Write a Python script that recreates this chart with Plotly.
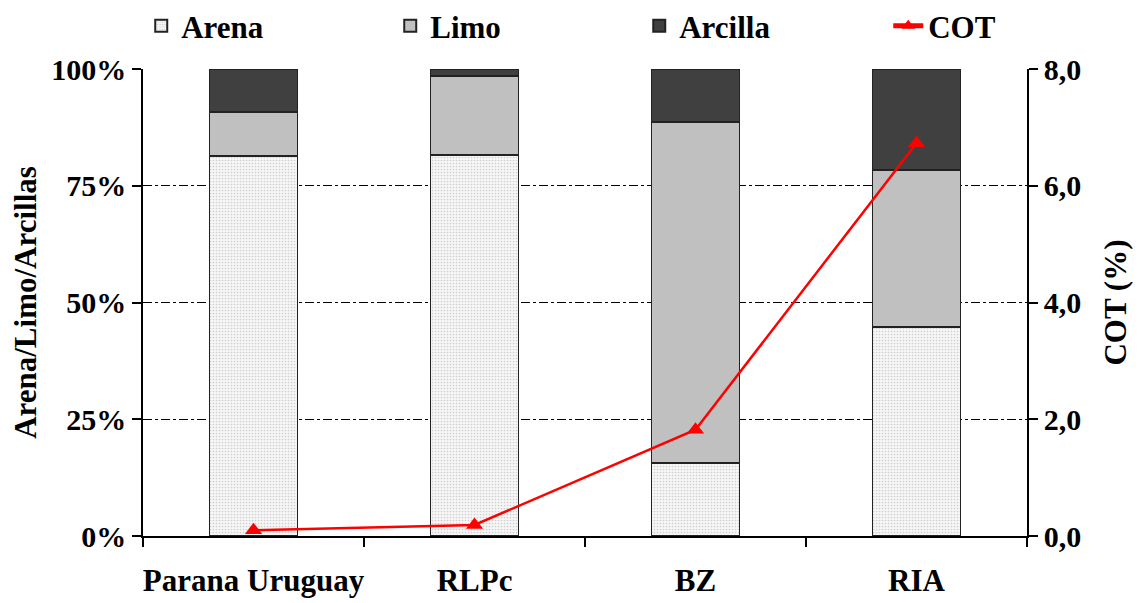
import plotly.graph_objects as go

categories = ["Parana Uruguay", "RLPc", "BZ", "RIA"]
arena = [81.4, 81.6, 15.6, 44.8]
limo = [9.4, 16.9, 73.1, 33.6]
arcilla = [9.2, 1.5, 11.3, 21.6]
cot = [0.10, 0.19, 1.82, 6.73]

left_ticks = [0, 25, 50, 75, 100]
left_ticktext = ["0%", "25%", "50%", "75%", "100%"]
right_ticks = [0, 2, 4, 6, 8]

FONT = "Liberation Serif"

fig = go.Figure()
fig.add_trace(go.Bar(
    x=categories, y=arena, name="Arena", width=0.4,
    marker=dict(color="white", line=dict(color="#222222", width=1.5),
                pattern=dict(shape=".", fgcolor="#a8a8a8", bgcolor="#f6f6f6", size=3, solidity=0.25)),
))
fig.add_trace(go.Bar(
    x=categories, y=limo, name="Limo", width=0.4,
    marker=dict(color="#c0c0c0", line=dict(color="#222222", width=1.5)),
))
fig.add_trace(go.Bar(
    x=categories, y=arcilla, name="Arcilla", width=0.4,
    marker=dict(color="#404040", line=dict(color="#222222", width=1.5)),
))
fig.add_trace(go.Scatter(
    x=categories, y=cot, name="COT", yaxis="y2", mode="lines+markers",
    line=dict(color="#ff0000", width=2.5),
    marker=dict(symbol="triangle-up", size=15, color="#ff0000"),
))

# page body has an 8px default margin, so the figure is sized/offset to compensate
fig.update_layout(
    width=1134, height=595,
    barmode="stack",
    separators=",.",
    plot_bgcolor="white", paper_bgcolor="white",
    margin=dict(l=135, r=115, t=61, b=67, autoexpand=False),
    font=dict(family=FONT, size=28, color="black"),
    showlegend=True,
    legend=dict(orientation="h", x=-0.002, xref="paper", y=1.092, yref="paper",
                yanchor="middle", xanchor="left", entrywidth=204, entrywidthmode="pixels",
                font=dict(family=FONT, size=31, color="black", weight="bold"),
                traceorder="normal", itemsizing="constant", bgcolor="rgba(0,0,0,0)"),
    xaxis=dict(
        type="category", showline=True, linecolor="black", linewidth=1.5,
        ticks="outside", tickson="boundaries", ticklen=9, tickcolor="black", tickwidth=1.5,
        ticklabelstandoff=16, showgrid=False, tickangle=0,
        tickfont=dict(family=FONT, size=31, color="black", weight="bold"),
        range=[-0.5, 3.5],
    ),
    yaxis=dict(
        range=[0, 100], tickvals=left_ticks, ticktext=left_ticktext,
        showline=True, linecolor="black", linewidth=1.5,
        ticks="outside", ticklen=9, tickcolor="black", tickwidth=1.5,
        showgrid=True, gridcolor="black", gridwidth=1, griddash="dashdot",
        zeroline=False,
        tickfont=dict(family=FONT, size=30, color="black", weight="bold"),
        title=dict(text="Arena/Limo/Arcillas", standoff=8,
                   font=dict(family=FONT, size=31, color="black", weight="bold")),
    ),
    yaxis2=dict(
        range=[0, 8], tickvals=right_ticks, tickformat=".1f",
        overlaying="y", side="right",
        showline=True, linecolor="black", linewidth=1.5,
        ticks="outside", ticklen=9, tickcolor="black", tickwidth=1.5,
        showgrid=False, zeroline=False,
        tickfont=dict(family=FONT, size=30, color="black", weight="bold"),
        title=dict(text="COT (%)", standoff=24,
                   font=dict(family=FONT, size=31, color="black", weight="bold")),
    ),
)

fig.write_html("out.html")
